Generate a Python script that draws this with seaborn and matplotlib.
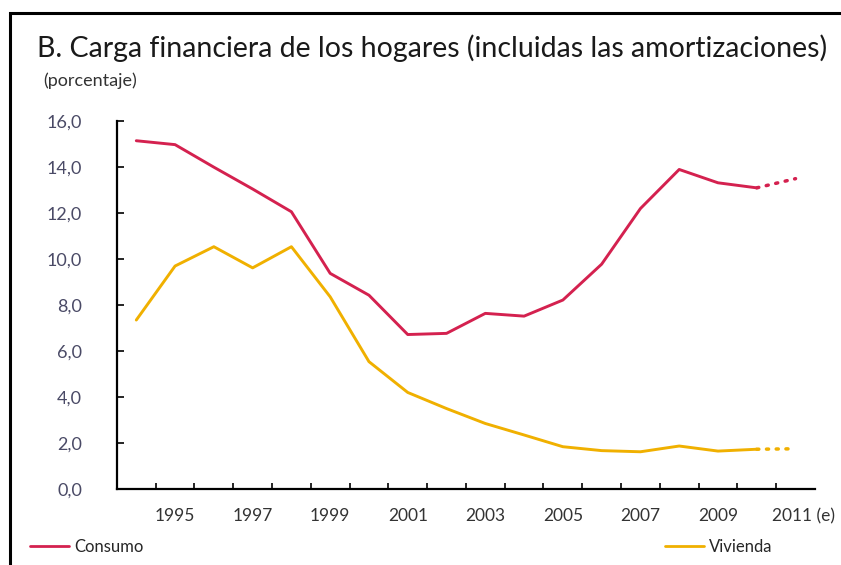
import pandas as pd
import matplotlib
matplotlib.use('Agg')
import matplotlib.pyplot as plt
import matplotlib.patches as mpatches
import matplotlib.transforms as mtransforms
from matplotlib.lines import Line2D
from matplotlib.ticker import FuncFormatter, FixedLocator
import seaborn as sns

# Carga financiera de los hogares (%), 1994-2010 observado, 2011 estimado
years = list(range(1994, 2011))
consumo = [15.15, 14.98, 14.0, 13.05, 12.06, 9.38, 8.43, 6.72, 6.77, 7.64,
           7.52, 8.22, 9.78, 12.2, 13.9, 13.32, 13.1]
vivienda = [7.35, 9.7, 10.54, 9.62, 10.54, 8.36, 5.54, 4.2, 3.5, 2.85,
            2.35, 1.84, 1.67, 1.62, 1.87, 1.65, 1.73]
est_years = [2010, 2011]
consumo_est = [13.1, 13.5]
vivienda_est = [1.73, 1.75]

label_years = [1995, 1997, 1999, 2001, 2003, 2005, 2007, 2009, 2011]
colors = {'Consumo': '#d4214f', 'Vivienda': '#f0b000'}

df = pd.concat([
    pd.DataFrame({'year': years, 'value': consumo, 'serie': 'Consumo'}),
    pd.DataFrame({'year': years, 'value': vivienda, 'serie': 'Vivienda'}),
])
df_est = pd.concat([
    pd.DataFrame({'year': est_years, 'value': consumo_est, 'serie': 'Consumo'}),
    pd.DataFrame({'year': est_years, 'value': vivienda_est, 'serie': 'Vivienda'}),
])

sns.set_style("white")
plt.rcParams['font.family'] = ['Lato', 'DejaVu Sans']

fig = plt.figure(figsize=(8.41, 5.65), dpi=100)
ax = fig.add_axes([0.139, 0.1345, 0.83, 0.651])

sns.lineplot(data=df, x='year', y='value', hue='serie', palette=colors,
             linewidth=2.1, legend=False, ax=ax)
sns.lineplot(data=df_est, x='year', y='value', hue='serie', palette=colors,
             linewidth=2.5, legend=False, ax=ax, linestyle=(0, (0.6, 2.2)),
             dash_capstyle='round')

ax.set_xlim(1993.5, 2011.5)
ax.set_ylim(0, 16)
ax.set_xlabel('')
ax.set_ylabel('')

# x: tick marks between years, labels on odd years
ax.xaxis.set_major_locator(FixedLocator(label_years))
ax.set_xticklabels([str(y) if y != 2011 else '2011 (e)' for y in label_years])
ax.xaxis.set_minor_locator(FixedLocator([y + 0.5 for y in range(1994, 2011)]))
ax.tick_params(axis='x', which='major', length=0, pad=14, labelsize=12.5,
               labelcolor='#333333')
ax.tick_params(axis='x', which='minor', length=4, width=1.2, direction='in',
               color='black', bottom=True)
shift = mtransforms.ScaledTranslation(8 / 100, 0, fig.dpi_scale_trans)
for lbl in ax.get_xticklabels():
    if lbl.get_text().startswith('2011'):
        lbl.set_transform(lbl.get_transform() + shift)

ax.set_yticks(range(0, 17, 2))
ax.yaxis.set_major_formatter(FuncFormatter(lambda v, p: f"{v:.1f}".replace('.', ',')))
ax.tick_params(axis='y', length=5, width=1.2, direction='in', color='black',
               left=True, pad=25, labelsize=13, labelcolor='#4a4a66')

sns.despine(ax=ax)
for s in ['left', 'bottom']:
    ax.spines[s].set_linewidth(1.6)
    ax.spines[s].set_color('black')

# titles
fig.text(0.044, 0.915, 'B. Carga financiera de los hogares (incluidas las amortizaciones)',
         fontsize=20.5, color='#1a1a1a', va='center', ha='left')
fig.text(0.051, 0.857, '(porcentaje)', fontsize=13, color='#333333',
         va='center', ha='left')

# legends
h_cons = [Line2D([], [], color=colors['Consumo'], lw=2)]
h_viv = [Line2D([], [], color=colors['Vivienda'], lw=2)]
fig.legend(h_cons, ['Consumo'], loc='center left', bbox_to_anchor=(0.036, 0.032),
           frameon=False, fontsize=12, handlelength=2.3, handletextpad=0.35,
           borderpad=0, borderaxespad=0)
fig.legend(h_viv, ['Vivienda'], loc='center left', bbox_to_anchor=(0.791, 0.032),
           frameon=False, fontsize=12, handlelength=2.3, handletextpad=0.35,
           borderpad=0, borderaxespad=0)

# outer frame
fig.patches.append(mpatches.Rectangle((0.012, -0.1), 1.2, 1.077, transform=fig.transFigure,
                                      fill=False, edgecolor='black', linewidth=2.2))

fig.savefig('out.png', dpi=100)
